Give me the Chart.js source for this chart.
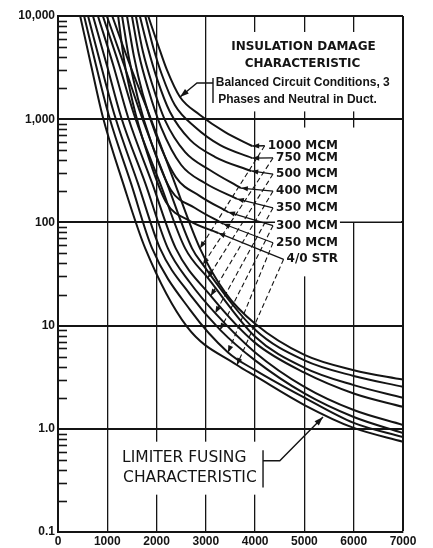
<!DOCTYPE html>
<html>
<head>
<meta charset="utf-8">
<script src="https://cdn.jsdelivr.net/npm/chart.js@4.4.1/dist/chart.umd.min.js"></script>
<style>
  html, body { margin: 0; padding: 0; background: #fff; }
  #wrap { width: 433px; height: 548px; }
</style>
</head>
<body>
<div id="wrap"><canvas id="chart" width="433" height="548"></canvas></div>
<script>
// Cable limiter coordination: current (amperes) vs time (seconds, log)

const ampTicks = [0, 1000, 2000, 3000, 4000, 5000, 6000, 7000];
const timeTicks = [0.1, 1, 10, 100, 1000, 10000];
const timeTickLabels = ['0.1', '1.0', '10', '100', '1,000', '10,000'];

const cableSizes = ['1000 MCM', '750 MCM', '500 MCM', '400 MCM', '350 MCM', '300 MCM', '250 MCM', '4/0 STR'];

// limiter fusing characteristic, one curve per cable size (same order)
const fuseAmps = [
    [1100, 1460, 1870, 2370, 2880, 3390, 4000, 5000, 6000, 7000],
    [990, 1340, 1700, 2210, 2720, 2940, 4000, 5000, 6000, 7000],
    [910, 1240, 1560, 2070, 2580, 3040, 4000, 5000, 6000, 7000],
    [810, 1120, 1420, 1910, 2390, 3100, 4000, 5000, 6000, 7000],
    [710, 990, 1280, 1770, 2230, 2680, 3190, 4000, 5000, 6000, 7000],
    [610, 870, 1160, 1620, 2070, 2680, 3290, 4000, 5000, 6000, 7000],
    [530, 770, 1040, 1480, 1910, 2680, 3450, 4000, 5000, 6000, 7000],
    [450, 670, 910, 1320, 1770, 2620, 3630, 4000, 5000, 6000, 7000]
];
const fuseSecs = [
    [10000, 3350, 1050, 240, 56, 21, 10.4, 5.2, 3.7, 3.0],
    [10000, 3350, 1050, 240, 56, 39, 9.1, 4.6, 3.25, 2.55],
    [10000, 3350, 1050, 240, 56, 29, 7.8, 3.9, 2.65, 2.0],
    [10000, 3350, 1050, 240, 56, 19.4, 6.8, 3.5, 2.2, 1.63],
    [10000, 3350, 1050, 240, 56, 26, 13.2, 5.5, 2.55, 1.52, 1.09],
    [10000, 3350, 1050, 240, 56, 20, 9.1, 4.6, 2.2, 1.3, 0.91],
    [10000, 3350, 1050, 240, 56, 14.2, 5.5, 3.7, 2.0, 1.14, 0.83],
    [10000, 3350, 1050, 240, 56, 9.7, 4.15, 3.25, 1.7, 1.02, 0.75]
];

// insulation damage characteristic, balanced circuit, 3 phases and neutral in duct
const damageAmps = [
    [1830, 2030, 2210, 2475, 2880, 3390, 3940],
    [1770, 1930, 2110, 2370, 2780, 3290, 3940],
    [1660, 1830, 2010, 2270, 2680, 3190, 3920],
    [1580, 1720, 1910, 2170, 2580, 3080, 3710],
    [1500, 1640, 1830, 2090, 2500, 2980, 3630],
    [1400, 1540, 1720, 1990, 2390, 2880, 3450],
    [1300, 1440, 1620, 1890, 2290, 2780, 3350],
    [1220, 1340, 1520, 1790, 2190, 2680, 3250]
];
const damageSecs = [
    [10000, 5240, 3000, 1640, 1100, 750, 550],
    [10000, 5010, 2680, 1370, 840, 560, 420],
    [10000, 4790, 2460, 1180, 630, 430, 315],
    [10000, 4580, 2190, 980, 480, 322, 215],
    [10000, 4290, 1960, 840, 360, 241, 169],
    [10000, 4090, 1750, 700, 275, 180, 126],
    [10000, 3920, 1600, 600, 206, 138, 97],
    [10000, 3750, 1430, 503, 158, 103, 79]
];

// where each size label points on its fusing curve
const fuseMarkAmps = [2880, 2940, 3040, 3100, 3190, 3290, 3450, 3630];
const fuseMarkSecs = [56, 39, 29, 19.4, 13.2, 9.1, 5.5, 4.15];

// size labels: right edge current, vertical position in seconds
const labelRightAmps = 5680;
const labelSecs = [553, 421, 294, 201, 138, 93, 63.5, 43.9];

const INK = '#141414';

function toPoints(amps, secs) {
    return amps.map((a, i) => ({ x: a, y: secs[i] }));
}

function curve(label, points) {
    return {
        label: label,
        data: points,
        showLine: true,
        borderColor: INK,
        backgroundColor: INK,
        borderWidth: 2,
        pointRadius: 0,
        fill: false,
        cubicInterpolationMode: 'monotone'
    };
}

const datasets = [];
fuseAmps.forEach((amps, i) => {
    datasets.push(curve('Fusing ' + cableSizes[i], toPoints(amps, fuseSecs[i])));
});
damageAmps.forEach((amps, i) => {
    datasets.push(curve('Damage ' + cableSizes[i], toPoints(amps, damageSecs[i])));
});

function arrowHead(ctx, fx, fy, tx, ty, len = 7, half = 2.6) {
    const a = Math.atan2(ty - fy, tx - fx);
    const bx = tx - len * Math.cos(a), by = ty - len * Math.sin(a);
    ctx.beginPath();
    ctx.moveTo(tx, ty);
    ctx.lineTo(bx + half * Math.sin(a), by - half * Math.cos(a));
    ctx.lineTo(bx - half * Math.sin(a), by + half * Math.cos(a));
    ctx.closePath();
    ctx.fill();
}

// blank patches behind the lettering (amps from, amps to, secs top, secs bottom)
const blankAreas = [
    [3080, 6960, 7000, 1190],
    [4080, 6960, 830, 102],
    [4080, 5900, 96, 30],
    [1250, 4100, 0.75, 0.23]
];

const notes = {
    id: 'notes',
    beforeDatasetsDraw(chart) {
        const { ctx, scales: { x, y } } = chart;
        ctx.save();
        ctx.fillStyle = '#fff';
        blankAreas.forEach(([a0, a1, s0, s1]) => {
            const l = x.getPixelForValue(a0), r = x.getPixelForValue(a1);
            const t = y.getPixelForValue(s0), b = y.getPixelForValue(s1);
            ctx.fillRect(l, t, r - l, b - t);
        });

        // minor ticks inside the left axis
        ctx.strokeStyle = INK;
        ctx.lineWidth = 1.6;
        const left = chart.chartArea.left;
        for (let d = -1; d < 4; d++) {
            for (let m = 2; m <= 9; m++) {
                const py = Math.round(y.getPixelForValue(m * Math.pow(10, d))) + 0.5;
                ctx.beginPath();
                ctx.moveTo(left, py);
                ctx.lineTo(left + 9, py);
                ctx.stroke();
            }
        }
        ctx.restore();
    },
    afterDatasetsDraw(chart) {
        const { ctx, scales: { x, y } } = chart;
        const px = v => x.getPixelForValue(v);
        const py = v => y.getPixelForValue(v);
        ctx.save();
        ctx.fillStyle = INK;
        ctx.strokeStyle = INK;

        // cable size labels with leaders to both curves
        ctx.font = 'bold 12px "DejaVu Sans"';
        ctx.textAlign = 'right';
        ctx.textBaseline = 'middle';
        cableSizes.forEach((name, i) => {
            const rx = px(labelRightAmps), ly = py(labelSecs[i]);
            const w = ctx.measureText(name).width;
            ctx.fillStyle = '#fff';
            ctx.fillRect(rx - w - 1, ly - 6, w + 3, 12);
            ctx.fillStyle = INK;
            ctx.fillText(name, rx, ly);

            const ax = rx - w - 3;
            const dAmps = damageAmps[i], dSecs = damageSecs[i];
            const ex = px(dAmps[dAmps.length - 1]), ey = py(dSecs[dSecs.length - 1]);
            ctx.lineWidth = 1.3;
            ctx.setLineDash([]);
            ctx.beginPath();
            ctx.moveTo(ax, ly);
            ctx.lineTo(ex, ey);
            ctx.stroke();
            arrowHead(ctx, ax, ly, ex, ey);

            const fx = px(fuseMarkAmps[i]), fy = py(fuseMarkSecs[i]);
            ctx.lineWidth = 1.1;
            ctx.setLineDash([5, 3]);
            ctx.beginPath();
            ctx.moveTo(ax, ly);
            ctx.lineTo(fx, fy);
            ctx.stroke();
            ctx.setLineDash([]);
            arrowHead(ctx, ax, ly, fx, fy);
        });

        // insulation damage heading
        ctx.textAlign = 'center';
        ctx.font = 'bold 12px "DejaVu Sans"';
        ctx.fillText('INSULATION DAMAGE', px(4980), py(5010));
        ctx.fillText('CHARACTERISTIC', px(4960), py(3430));
        ctx.textAlign = 'left';
        ctx.font = 'bold 12px "Liberation Sans"';
        ctx.fillText('Balanced Circuit Conditions, 3', px(3200), py(2244));
        ctx.fillText('Phases and Neutral in Duct.', px(3250), py(1535));

        ctx.lineWidth = 1.4;
        ctx.beginPath();
        ctx.moveTo(px(3145), py(2510));
        ctx.lineTo(px(3145), py(1435));
        ctx.moveTo(px(3145), py(2244));
        ctx.lineTo(px(2820), py(2244));
        ctx.lineTo(px(2475), py(1640));
        ctx.stroke();
        arrowHead(ctx, px(2820), py(2244), px(2475), py(1640), 9, 3);

        // limiter fusing heading
        ctx.font = '15.5px "DejaVu Sans"';
        ctx.fillText('LIMITER FUSING', px(1300), py(0.52));
        ctx.fillText('CHARACTERISTIC', px(1320), py(0.333));
        ctx.beginPath();
        ctx.moveTo(px(4160), py(0.62));
        ctx.lineTo(px(4160), py(0.27));
        ctx.moveTo(px(4160), py(0.49));
        ctx.lineTo(px(4500), py(0.49));
        ctx.lineTo(px(5377), py(1.3));
        ctx.stroke();
        arrowHead(ctx, px(4500), py(0.49), px(5377), py(1.3), 9, 3);

        ctx.restore();
    }
};

const tickFont = { family: '"Liberation Sans"', weight: 'bold', size: 12 };

new Chart(document.getElementById('chart'), {
    type: 'scatter',
    data: { datasets: datasets },
    options: {
        responsive: false,
        animation: false,
        devicePixelRatio: 1,
        layout: { padding: { top: 16, right: 30, bottom: 0, left: 0 } },
        plugins: {
            legend: { display: false },
            tooltip: { enabled: false },
            colors: { enabled: false }
        },
        scales: {
            x: {
                type: 'linear',
                min: 0,
                max: 7000,
                afterBuildTicks: s => { s.ticks = ampTicks.map(v => ({ value: v })); },
                afterFit: s => { s.height = 16; },
                ticks: {
                    color: INK,
                    font: tickFont,
                    padding: 2,
                    maxRotation: 0,
                    autoSkip: false,
                    callback: v => String(v)
                },
                grid: {
                    color: INK,
                    lineWidth: c => (c.tick && c.tick.value === 7000 ? 2 : 1.3),
                    drawTicks: false
                },
                border: { color: INK, width: 2 }
            },
            y: {
                type: 'logarithmic',
                min: 0.1,
                max: 10000,
                afterBuildTicks: s => { s.ticks = timeTicks.map(v => ({ value: v })); },
                afterFit: s => { s.width = 58; },
                ticks: {
                    color: INK,
                    font: tickFont,
                    padding: 3,
                    autoSkip: false,
                    callback: (v, i) => timeTickLabels[i]
                },
                grid: { color: INK, lineWidth: 2, drawTicks: false },
                border: { color: INK, width: 2 }
            }
        }
    },
    plugins: [notes]
});
</script>
</body>
</html>
